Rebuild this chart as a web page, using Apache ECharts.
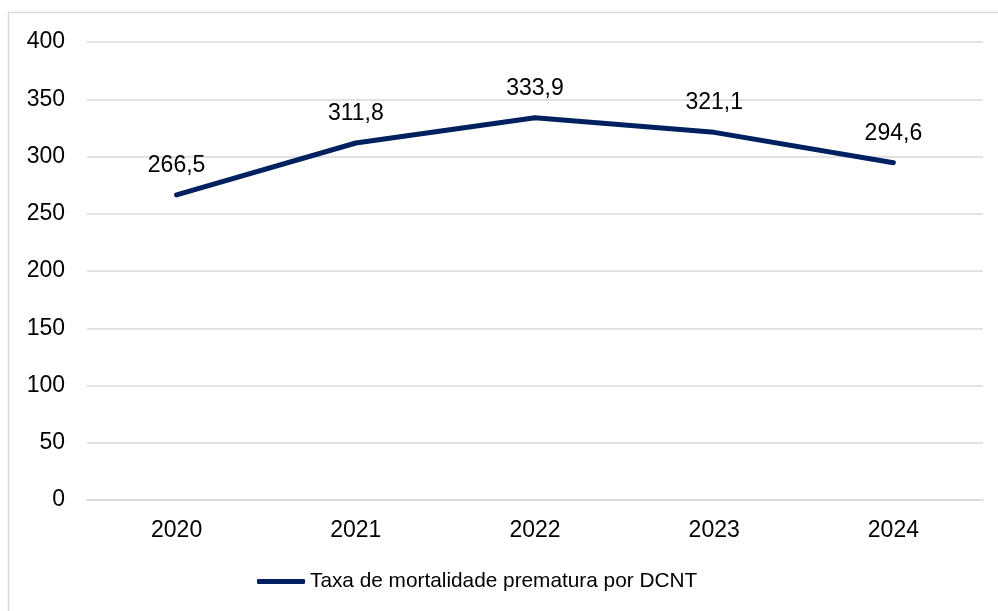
<!DOCTYPE html>
<html>
<head>
<meta charset="utf-8">
<script src="https://cdn.jsdelivr.net/npm/echarts@6/dist/echarts.min.js"></script>
<style>
  html, body { margin: 0; padding: 0; background: #fff; }
  #chart { width: 998px; height: 611px; }
</style>
</head>
<body>
<div id="chart"></div>
<script>
const years = ['2020', '2021', '2022', '2023', '2024'];
const rates = [266.5, 311.8, 333.9, 321.1, 294.6];
const seriesName = 'Taxa de mortalidade prematura por DCNT';

const font = '"Liberation Sans", Arial, sans-serif';
const navy = '#002060';
const myChart = echarts.init(document.getElementById('chart'));

const option = {
    animation: false,
    textStyle: { fontFamily: font },
    graphic: [
        {
            type: 'rect',
            shape: { x: 8.5, y: 12.5, width: 1000, height: 700 },
            style: { fill: 'none', stroke: '#d9d9d9', lineWidth: 1.5 },
            silent: true
        }
    ],
    grid: { left: 87, right: 15, top: 42, bottom: 111 },
    legend: {
        left: 257,
        top: 571,
        padding: 0,
        icon: 'roundRect',
        itemWidth: 48,
        itemHeight: 5,
        textStyle: { fontSize: 20.8, color: '#000', fontFamily: font },
        data: [seriesName]
    },
    xAxis: {
        type: 'category',
        data: years,
        boundaryGap: true,
        axisLine: { lineStyle: { color: '#d9d9d9', width: 1.5 } },
        axisTick: { show: false },
        axisLabel: { fontSize: 23, color: '#000', margin: 19 }
    },
    yAxis: {
        type: 'value',
        min: 0,
        max: 400,
        interval: 50,
        axisLine: { show: false },
        axisTick: { show: false },
        splitLine: { lineStyle: { color: '#d9d9d9', width: 1.5 } },
        axisLabel: { fontSize: 23, color: '#000', margin: 22 }
    },
    series: [
        {
            name: seriesName,
            type: 'line',
            data: rates,
            symbol: 'circle',
            symbolSize: 2,
            lineStyle: { color: navy, width: 5, cap: 'round', join: 'round' },
            itemStyle: { color: navy },
            label: {
                show: true,
                position: 'top',
                distance: 17,
                fontSize: 23,
                color: '#000',
                formatter: p => String(p.value).replace('.', ',')
            }
        }
    ]
};

myChart.setOption(option);
</script>
</body>
</html>
